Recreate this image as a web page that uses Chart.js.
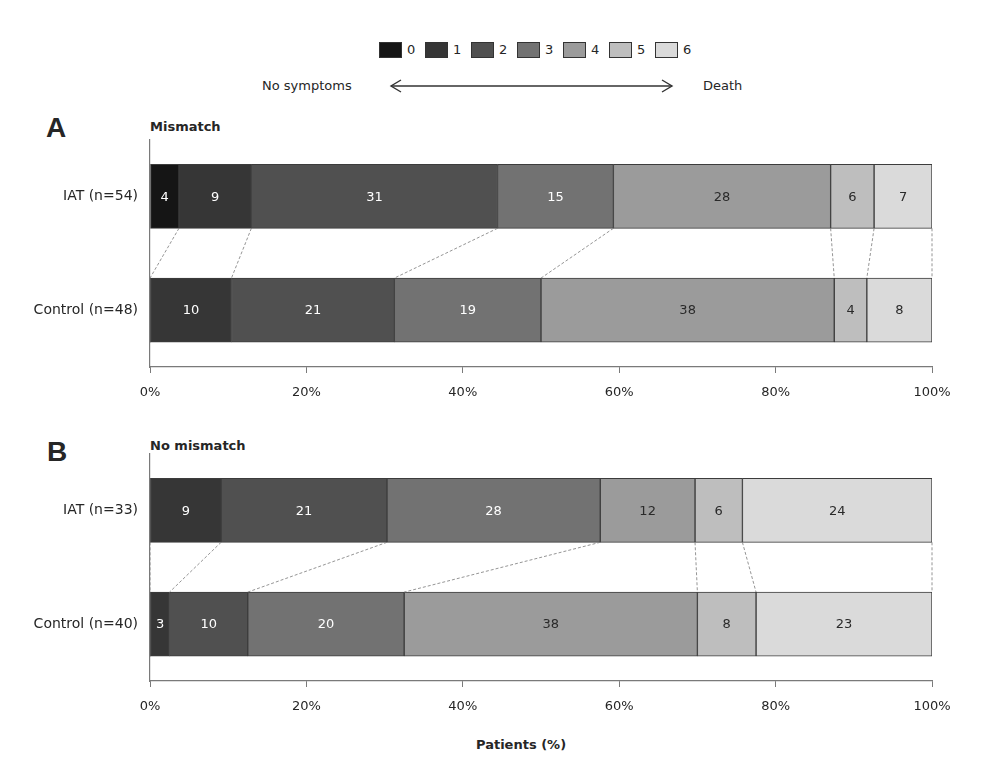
<!DOCTYPE html>
<html>
<head>
<meta charset="utf-8">
<title>mRS distribution</title>
<script src="https://cdn.jsdelivr.net/npm/chart.js@4.4.1/dist/chart.umd.min.js"></script>
<style>
  body { margin: 0; background: #fff; font-family: "DejaVu Sans", Verdana, sans-serif; color: #262626; }
  #page { position: relative; width: 982px; height: 776px; overflow: hidden; }
  .txt { position: absolute; font-size: 13px; line-height: 16px; white-space: nowrap; transform: translateY(-50%); }
  .bold { font-weight: bold; }
  .letter { position: absolute; font-family: "Liberation Sans", Arial, sans-serif; font-weight: bold; font-size: 28px; line-height: 30px; transform: translateY(-50%); }
  .swatch { position: absolute; width: 23px; height: 16px; box-sizing: border-box; border: 1px solid #333; }
  canvas { position: absolute; left: 0; }
</style>
</head>
<body>
<div id="page">
  <div id="legend"></div>
  <svg style="position:absolute;left:380px;top:76px" width="300" height="20">
    <g stroke="#333" stroke-width="1.4" fill="none">
      <line x1="11" y1="10" x2="292" y2="10"/>
      <polyline points="21,4 11,10 21,16"/>
      <polyline points="282,4 292,10 282,16"/>
    </g>
  </svg>
  <div class="txt" style="left:262px;top:86px">No symptoms</div>
  <div class="txt" style="left:703px;top:86px">Death</div>

  <div class="letter" style="left:46px;top:128px">A</div>
  <div class="txt bold" style="left:150px;top:127px">Mismatch</div>
  <canvas id="chartA" width="982" height="280" style="top:127px"></canvas>

  <div class="letter" style="left:47px;top:452px">B</div>
  <div class="txt bold" style="left:150px;top:446px">No mismatch</div>
  <canvas id="chartB" width="982" height="280" style="top:441px"></canvas>

  <div class="txt bold" style="left:476px;top:745px">Patients (%)</div>
</div>

<script>
// modified Rankin scale scores
const categories = ['0', '1', '2', '3', '4', '5', '6'];
const colours = ['#151515', '#363636', '#505050', '#727272', '#9b9b9b', '#bebebe', '#dadada'];

// A: mismatch (patient counts per score)
const groupsA = ['IAT (n=54)', 'Control (n=48)'];
const iatA = [2, 5, 17, 8, 15, 3, 4];
const controlA = [0, 5, 10, 9, 18, 2, 4];
const printedIatA = [4, 9, 31, 15, 28, 6, 7];
const printedControlA = [0, 10, 21, 19, 38, 4, 8];

// B: no mismatch
const groupsB = ['IAT (n=33)', 'Control (n=40)'];
const iatB = [0, 3, 7, 9, 4, 2, 8];
const controlB = [0, 1, 4, 8, 15, 3, 9];
const printedIatB = [0, 9, 21, 28, 12, 6, 24];
const printedControlB = [0, 3, 10, 20, 38, 8, 23];

const xTicks = [0, 20, 40, 60, 80, 100];

Chart.defaults.font.family = '"DejaVu Sans", Verdana, sans-serif';
Chart.defaults.font.size = 13;
Chart.defaults.color = '#262626';

// legend
const legend = document.getElementById('legend');
categories.forEach((c, i) => {
    const left = 379 + i * 46;
    const box = document.createElement('div');
    box.className = 'swatch';
    box.style.left = left + 'px';
    box.style.top = '42px';
    box.style.background = colours[i];
    legend.appendChild(box);
    const lab = document.createElement('div');
    lab.className = 'txt';
    lab.style.left = (left + 28) + 'px';
    lab.style.top = '50px';
    lab.textContent = c;
    legend.appendChild(lab);
});

const toPercent = (counts) => {
    const n = counts.reduce((a, b) => a + b, 0);
    return counts.map(v => v / n * 100);
}

// dashed connectors between bars + numbers inside segments
const barExtras = {
    id: 'barExtras',
    afterDatasetsDraw(chart, args, opts) {
        const ctx = chart.ctx;
        ctx.save();
        ctx.strokeStyle = '#7a7a7a';
        ctx.lineWidth = 0.8;
        ctx.setLineDash([3, 2]);
        chart.data.datasets.forEach((ds, i) => {
            const meta = chart.getDatasetMeta(i);
            const a = meta.data[0], b = meta.data[1];
            ctx.beginPath();
            ctx.moveTo(a.x, a.y + a.height / 2);
            ctx.lineTo(b.x, b.y - b.height / 2);
            ctx.stroke();
        });
        ctx.setLineDash([]);
        ctx.font = '13px "DejaVu Sans", Verdana, sans-serif';
        ctx.textAlign = 'center';
        ctx.textBaseline = 'middle';
        chart.data.datasets.forEach((ds, i) => {
            const meta = chart.getDatasetMeta(i);
            meta.data.forEach((el, j) => {
                const txt = opts.printed[j][i];
                if (!txt) return;
                ctx.fillStyle = i < 4 ? '#ffffff' : '#2a2a2a';
                ctx.fillText(String(txt), (el.x + el.base) / 2, el.y + 1);
            });
        });
        ctx.restore();
    }
};

const makeChart = (id, groups, iat, control, printed) => {
    const pIat = toPercent(iat);
    const pControl = toPercent(control);
    const datasets = categories.map((c, i) => ({
        label: c,
        data: [pIat[i], pControl[i]],
        backgroundColor: colours[i],
        borderColor: '#3c3c3c',
        borderWidth: (c2) => c2.raw ? 1 : 0,
        borderSkipped: false,
        barThickness: 64
    }));

    return new Chart(document.getElementById(id), {
        type: 'bar',
        data: { labels: groups, datasets: datasets },
        plugins: [barExtras],
        options: {
            indexAxis: 'y',
            responsive: false,
            animation: false,
            devicePixelRatio: 1,
            layout: { padding: { left: 0, right: 50, top: 0, bottom: 0 } },
            plugins: {
                legend: { display: false },
                tooltip: { enabled: false },
                barExtras: { printed: printed }
            },
            scales: {
                x: {
                    stacked: true,
                    min: 0,
                    max: 100,
                    afterBuildTicks: (s) => { s.ticks = xTicks.map(v => ({ value: v })); },
                    ticks: { callback: v => v + '%', padding: 12, maxRotation: 0, color: '#262626' },
                    grid: { drawOnChartArea: false, drawTicks: true, tickLength: 6, color: '#7a7a7a' },
                    border: { color: '#7a7a7a', width: 1.2 },
                    afterFit: (s) => { s.height = 40; }
                },
                y: {
                    stacked: true,
                    grid: { display: false },
                    ticks: { padding: 4, color: '#262626', font: { size: 14 } },
                    border: { color: '#7a7a7a', width: 1.2 },
                    afterFit: (s) => { s.width = 150; }
                }
            }
        }
    });
}

makeChart('chartA', groupsA, iatA, controlA, [printedIatA, printedControlA]);
makeChart('chartB', groupsB, iatB, controlB, [printedIatB, printedControlB]);
</script>
</body>
</html>
